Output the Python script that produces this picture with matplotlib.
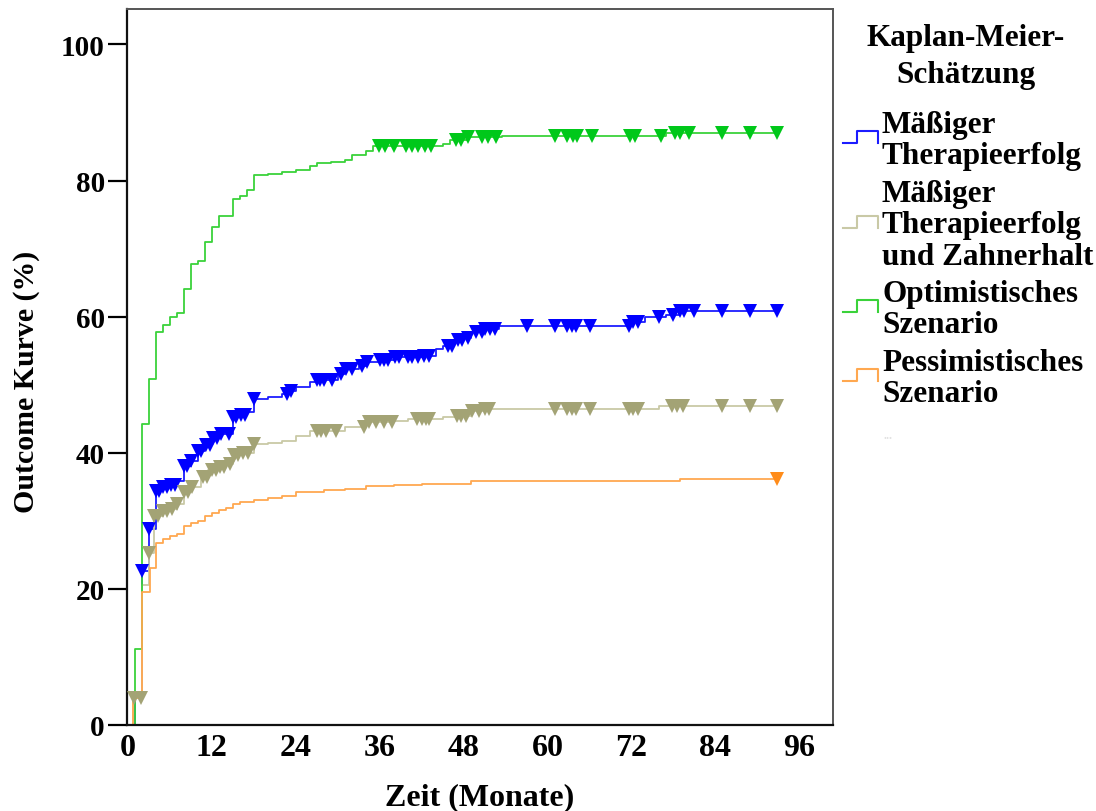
import matplotlib
matplotlib.use('Agg')
import matplotlib.pyplot as plt
import numpy as np
from matplotlib.lines import Line2D

plt.rcParams['font.family'] = ['Liberation Serif', 'DejaVu Serif']
plt.rcParams['font.weight'] = 'bold'

# Kaplan-Meier step data (months, %)
opt_t = [0, 1.0, 2.0, 3.0, 4.0, 5.0, 6.0, 7.0, 8.0, 9.0, 10.0, 11.0, 12.0, 13.0,
         15.0, 16.0, 17.0, 18.0, 20.0, 22.0, 24.0, 26.0, 27.0, 29.0, 31.0, 32.0,
         34.0, 35.0, 45.0, 46.0, 48.5, 53.5, 77.0]
opt_v = [0, 11.2, 44.2, 50.9, 57.8, 58.7, 60.0, 60.6, 64.0, 67.7, 68.2, 71.0, 73.1, 74.8,
         77.3, 77.7, 78.6, 80.8, 81.0, 81.3, 81.6, 82.1, 82.5, 82.7, 83.0, 83.7,
         84.3, 85.0, 85.4, 86.0, 86.4, 86.6, 87.0]
opt_cens = [35.9, 36.8, 38.0, 39.8, 40.6, 41.5, 42.5, 43.4, 46.9, 47.6, 48.6, 50.6,
            51.5, 52.6, 61.0, 62.8, 63.6, 64.2, 66.3, 71.8, 72.5, 76.2, 78.2, 79.0,
            80.2, 85.0, 89.0, 92.8]

mod_t = [0, 1.0, 2.0, 3.0, 4.0, 5.0, 6.0, 7.0, 8.0, 9.0, 10.0, 11.0, 12.0, 13.0, 15.0,
         16.0, 17.0, 18.0, 20.0, 22.0, 23.0, 24.0, 26.0, 27.0, 30.0, 31.0, 33.0, 34.0,
         36.0, 38.0, 40.0, 42.0, 44.0, 45.0, 46.5, 48.0, 49.0, 51.0, 53.0, 72.0, 74.0,
         77.0, 79.0]
mod_v = [0, 4.8, 22.6, 28.8, 34.4, 34.9, 35.3, 35.9, 38.1, 38.8, 40.2, 41.2, 42.2, 42.7,
         45.2, 45.6, 46.0, 47.9, 48.2, 48.6, 49.1, 49.7, 50.4, 50.7, 51.5, 52.3, 52.7,
         53.3, 53.7, 54.0, 54.1, 54.2, 55.2, 55.7, 56.5, 56.9, 57.8, 58.2, 58.6, 59.2,
         59.9, 60.3, 60.8]
mod_cens = [2.0, 3.0, 4.0, 4.5, 5.0, 5.6, 6.2, 6.8, 8.0, 8.5, 9.0, 10.0, 10.5, 11.2,
            11.7, 12.2, 12.8, 13.4, 14.5, 15.0, 15.5, 16.2, 16.8, 18.0, 22.8, 23.3,
            27.0, 27.5, 28.0, 29.2, 30.5, 31.2, 32.0, 33.5, 34.2, 36.0, 36.6, 37.2,
            38.2, 38.8, 40.0, 40.7, 41.5, 42.3, 43.0, 45.8, 46.4, 47.2, 47.8, 48.6,
            49.8, 50.6, 51.0, 51.8, 52.5, 57.0, 61.0, 62.8, 63.5, 64.0, 66.0, 71.6,
            72.2, 72.9, 76.0, 78.0, 79.0, 79.5, 81.0, 85.0, 89.0, 92.8]

zahn_t = [0, 0.8, 2.0, 3.0, 3.8, 5.0, 6.0, 7.0, 8.0, 9.0, 10.5, 11.5, 13.0, 14.0, 15.0,
          16.0, 18.0, 20.0, 22.0, 24.0, 26.0, 31.0, 34.0, 38.0, 40.0, 45.0, 47.0, 49.0,
          51.0, 76.0]
zahn_v = [0, 4.0, 20.5, 25.3, 30.7, 31.4, 31.8, 32.5, 34.2, 34.9, 36.4, 37.4, 37.9, 38.3,
          39.6, 40.0, 41.3, 41.4, 41.8, 42.5, 43.2, 43.8, 44.5, 44.6, 44.9, 45.3, 45.4,
          46.2, 46.4, 46.9]
zahn_cens = [0.9, 1.9, 3.0, 3.8, 4.4, 5.0, 5.6, 6.3, 7.0, 8.0, 8.6, 9.2, 10.8, 11.4,
             12.0, 12.6, 13.2, 13.8, 14.6, 15.2, 15.8, 16.5, 17.2, 18.0, 27.0, 27.6,
             28.4, 29.8, 33.8, 34.5, 35.5, 36.6, 37.8, 41.4, 42.0, 42.6, 43.1, 47.0,
             47.6, 48.4, 49.2, 50.2, 51.0, 51.7, 61.0, 62.8, 63.5, 64.0, 66.0, 71.6,
             72.2, 72.9, 77.8, 78.5, 79.3, 85.0, 89.0, 92.8]

pess_t = [0, 0.8, 2.0, 3.2, 4.0, 5.0, 6.0, 7.0, 8.0, 9.0, 10.0, 11.0, 12.0, 13.0, 14.0,
          15.0, 16.0, 18.0, 20.0, 22.0, 24.0, 28.0, 31.0, 34.0, 38.0, 42.0, 49.0, 71.0,
          79.0]
pess_v = [0, 4.0, 19.5, 23.0, 26.8, 27.4, 27.7, 28.0, 29.3, 29.7, 30.0, 30.7, 31.2, 31.6,
          31.9, 32.4, 32.7, 33.0, 33.3, 33.7, 34.2, 34.5, 34.7, 35.1, 35.2, 35.4, 35.8,
          35.9, 36.1]
pess_cens = [92.8]

labels = ['Mäßiger\nTherapieerfolg',
          'Mäßiger\nTherapieerfolg\nund Zahnerhalt',
          'Optimistisches\nSzenario',
          'Pessimistisches\nSzenario']
line_colors = ['#1c1cff', '#c9c9a6', '#3ad23a', '#ffa850']
mark_colors = ['#0000ff', '#a3a375', '#00c81a', '#ff8c1a']

series = [(mod_t, mod_v, mod_cens), (zahn_t, zahn_v, zahn_cens),
          (opt_t, opt_v, opt_cens), (pess_t, pess_v, pess_cens)]

fig = plt.figure(figsize=(10.96, 8.12), dpi=100)
W, H = 1096.0, 812.0
ax = fig.add_axes([127 / W, 1 - 726 / H, (833 - 127) / W, (726 - 10) / H])

# draw order: pessimistic, zahn, optimistic, moderate on top
for i in [3, 1, 2, 0]:
    t, v, cens = series[i]
    t_end = max(cens)
    tt = list(t) + [t_end]
    vv = list(v) + [v[-1]]
    ax.step(tt, vv, where='post', color=line_colors[i], lw=1.3, zorder=2 + i * 0.1)
    # censored marks sit on the step function
    idx = np.searchsorted(t, cens, side='right') - 1
    cy = np.array(v)[idx]
    ax.plot(cens, cy, 'v', color=mark_colors[i], ms=9.5, mew=0, ls='none',
            zorder=3 + i * 0.1)

ax.set_xlim(-0.1, 100.8)
ax.set_ylim(0, 105.2)
ax.set_xticks(range(0, 97, 12))
ax.set_yticks(range(0, 101, 20))
ax.tick_params(axis='y', length=14, width=1.6, direction='out', pad=2, labelsize=21)
ax.tick_params(axis='x', length=0, pad=6, labelsize=23)
for lab in ax.get_xticklabels() + ax.get_yticklabels():
    lab.set_fontweight('bold')

for s in ['left', 'bottom']:
    ax.spines[s].set_linewidth(1.6)
    ax.spines[s].set_color('#111111')
for s in ['top', 'right']:
    ax.spines[s].set_linewidth(1.4)
    ax.spines[s].set_color('#555555')

ax.set_xlabel('Zeit (Monate)', fontsize=23, fontweight='bold', labelpad=14)
ax.set_ylabel('Outcome Kurve (%)', fontsize=21.5, fontweight='bold')
ax.yaxis.set_label_coords(-0.123, 0.48)

# legend drawn by hand
fig.text(966 / W, 1 - 24 / H, 'Kaplan-Meier-\nSchätzung', ha='center', va='top',
         fontsize=22.5, fontweight='bold', linespacing=1.35)
centers = [141, 226, 310, 379]
for i, c in enumerate(centers):
    fig.text(882 / W, 1 - c / H, labels[i], ha='left', va='center', fontsize=22.5,
             fontweight='bold', linespacing=1.1)
    ic = c - 3
    xs = np.array([843, 857, 857, 878, 878]) / W
    ys = 1 - np.array([ic + 6, ic + 6, ic - 6, ic - 6, ic + 6]) / H
    fig.add_artist(Line2D(xs, ys, color=line_colors[i], lw=1.5))
fig.text(883 / W, 1 - 436 / H, '...', ha='left', va='center', fontsize=9,
         color='#e2e2e2')

fig.savefig('out.png', dpi=100)
